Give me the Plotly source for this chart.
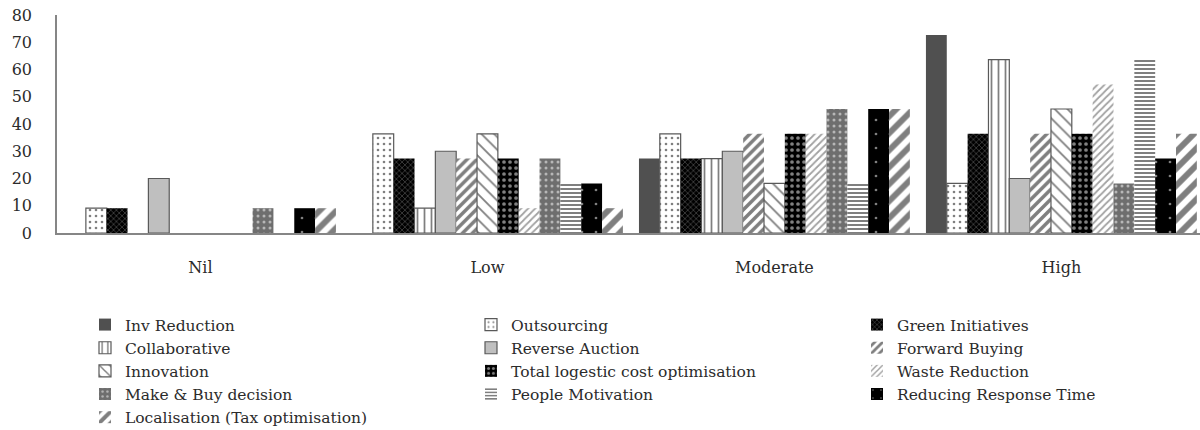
import plotly.graph_objects as go

# Response levels on the category axis
levels = ["Nil", "Low", "Moderate", "High"]

# Share of respondents (%) per initiative, by level
inv_reduction = [0, 0, 27.3, 72.7]
outsourcing = [9.1, 36.4, 36.4, 18.2]
green_initiatives = [9.1, 27.3, 27.3, 36.4]
collaborative = [0, 9.1, 27.3, 63.6]
reverse_auction = [20, 30, 30, 20]
forward_buying = [0, 27.3, 36.4, 36.4]
innovation = [0, 36.4, 18.2, 45.5]
total_logistic = [0, 27.3, 36.4, 36.4]
waste_reduction = [0, 9.1, 36.4, 54.5]
make_buy = [9.1, 27.3, 45.5, 18.2]
people_motivation = [0, 18.2, 18.2, 63.6]
response_time = [9.1, 18.2, 45.5, 27.3]
localisation = [9.1, 9.1, 45.5, 36.4]

y_ticks = [0, 10, 20, 30, 40, 50, 60, 70, 80]

OUTLINE = "#595959"
FONT = "DejaVu Serif"
TEXT = "#2b2b2b"

# name, values, fill style, outlined?, legend column
series = [
    ("Inv Reduction", inv_reduction, dict(color="#505050"), False, "legend"),
    ("Outsourcing", outsourcing,
     dict(color="white", pattern=dict(shape=".", fgcolor="black", bgcolor="white", size=6, solidity=0.15)),
     True, "legend2"),
    ("Green Initiatives", green_initiatives,
     dict(color="black", pattern=dict(shape="x", fgcolor="white", bgcolor="black", size=4, solidity=0.2)),
     False, "legend3"),
    ("Collaborative", collaborative,
     dict(color="white", pattern=dict(shape="|", fgcolor="black", bgcolor="white", size=7, solidity=0.25)),
     True, "legend"),
    ("Reverse Auction", reverse_auction, dict(color="#bfbfbf"), True, "legend2"),
    ("Forward Buying", forward_buying,
     dict(color="black", pattern=dict(shape="/", fgcolor="black", bgcolor="white", size=7, solidity=0.5)),
     False, "legend3"),
    ("Innovation", innovation,
     dict(color="white", pattern=dict(shape="\\", fgcolor="black", bgcolor="white", size=9, solidity=0.2)),
     True, "legend"),
    ("Total logestic cost optimisation", total_logistic,
     dict(color="black", pattern=dict(shape=".", fgcolor="white", bgcolor="black", size=6, solidity=0.3)),
     False, "legend2"),
    ("Waste Reduction", waste_reduction,
     dict(color="#444444", pattern=dict(shape="/", fgcolor="#444444", bgcolor="white", size=5, solidity=0.35)),
     False, "legend3"),
    ("Make & Buy decision", make_buy,
     dict(color="#6e6e6e", pattern=dict(shape=".", fgcolor="white", bgcolor="#6e6e6e", size=6, solidity=0.2)),
     False, "legend"),
    ("People Motivation", people_motivation,
     dict(color="black", pattern=dict(shape="-", fgcolor="black", bgcolor="white", size=4, solidity=0.5)),
     False, "legend2"),
    ("Reducing Response Time", response_time,
     dict(color="black", pattern=dict(shape=".", fgcolor="white", bgcolor="black", size=14, solidity=0.03)),
     False, "legend3"),
    ("Localisation (Tax optimisation)", localisation,
     dict(color="black", pattern=dict(shape="/", fgcolor="black", bgcolor="white", size=12, solidity=0.5)),
     False, "legend"),
]

fig = go.Figure()
for name, vals, fill, outlined, leg in series:
    marker = dict(fill)
    marker["line"] = dict(color=OUTLINE, width=1.2 if outlined else 0)
    # empty categories are left undrawn so outlined series leave no stub on the axis
    shown = [v if v > 0 else None for v in vals]
    fig.add_trace(go.Bar(x=levels, y=shown, name=name, marker=marker, legend=leg))

# Plot area: x 57..1200 px, y 15..233 px
PLOT_L, PLOT_W = 57, 1143
PLOT_B, PLOT_H = 233, 218


def px_x(px):
    return (px - PLOT_L) / PLOT_W


def px_y(px):
    return (PLOT_B - px) / PLOT_H


legend_common = dict(
    orientation="v", xanchor="left", yanchor="top",
    bgcolor="rgba(0,0,0,0)", font=dict(family=FONT, size=15.5, color=TEXT),
    itemwidth=30, tracegroupgap=0,
)
legend_top = px_y(308)

fig.update_layout(
    width=1200, height=430,
    margin=dict(l=57, r=0, t=15, b=197, autoexpand=False),
    paper_bgcolor="white", plot_bgcolor="white",
    barmode="group", bargap=0.056, bargroupgap=0,
    font=dict(family=FONT, size=16, color=TEXT),
    showlegend=True,
    legend=dict(legend_common, x=px_x(85), y=legend_top),
    legend2=dict(legend_common, x=px_x(471), y=legend_top),
    legend3=dict(legend_common, x=px_x(857), y=legend_top),
    xaxis=dict(
        type="category", range=[-0.5, 3.483],
        showline=True, linecolor="#868686", linewidth=1.5,
        showgrid=False, ticks="", ticklabelstandoff=19, tickangle=0,
        tickfont=dict(family=FONT, size=16, color=TEXT),
    ),
    yaxis=dict(
        range=[0, 80], tickvals=y_ticks,
        showline=True, linecolor="#868686", linewidth=1.5,
        showgrid=False, zeroline=False, ticks="", ticklabelstandoff=20,
        tickfont=dict(family=FONT, size=16, color=TEXT),
    ),
)

fig.write_html("out.html")
